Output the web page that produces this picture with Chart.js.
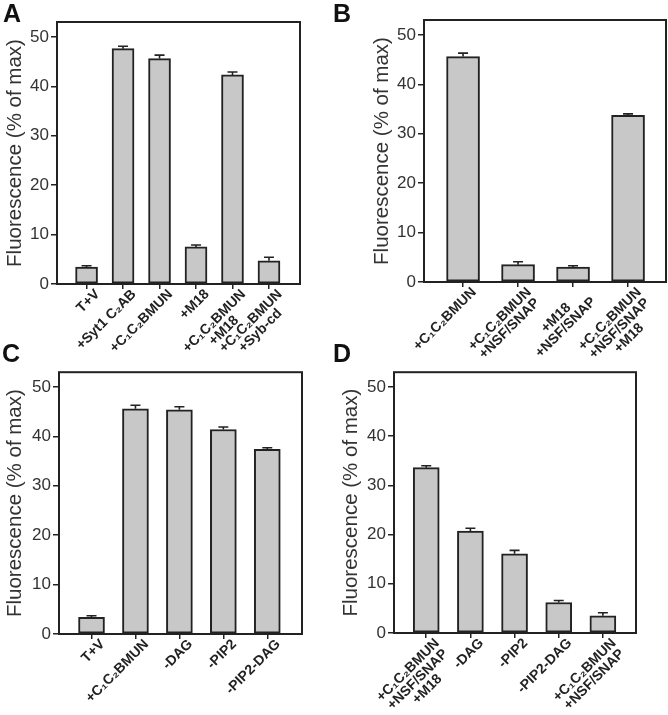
<!DOCTYPE html>
<html>
<head>
<meta charset="utf-8">
<script src="https://cdn.jsdelivr.net/npm/chart.js@4"></script>
<style>
  html, body { margin: 0; padding: 0; background: #fff; }
  #wrap { position: relative; width: 668px; height: 715px; overflow: hidden; }
  canvas { position: absolute; }
  .tag { position: absolute; font: bold 25px "Liberation Sans", Arial, sans-serif; line-height: 25px; color: #111; }
</style>
</head>
<body>
<div id="wrap">
  <canvas id="panelA" width="334" height="360" style="left:0;top:0"></canvas>
  <canvas id="panelB" width="334" height="360" style="left:334px;top:0"></canvas>
  <canvas id="panelC" width="334" height="355" style="left:0;top:360px"></canvas>
  <canvas id="panelD" width="334" height="355" style="left:334px;top:360px"></canvas>
  <div class="tag" style="left:3px;top:1px">A</div>
  <div class="tag" style="left:333px;top:1px">B</div>
  <div class="tag" style="left:2px;top:341px">C</div>
  <div class="tag" style="left:333px;top:341px">D</div>
</div>
<script>
// panel A
const labelsA = [["T+V"], ["+Syt1 C₂AB"], ["+C₁C₂BMUN"], ["+M18"], ["+C₁C₂BMUN", "+M18"], ["+C₁C₂BMUN", "+Syb-cd"]];
const valuesA = [3.4, 47.6, 45.6, 7.5, 42.3, 4.7];
const errorsA = [0.3, 0.5, 0.7, 0.4, 0.6, 0.7];

// panel B
const labelsB = [["+C₁C₂BMUN"], ["+C₁C₂BMUN", "+NSF/SNAP"], ["+M18", "+NSF/SNAP"], ["+C₁C₂BMUN", "+NSF/SNAP", "+M18"]];
const valuesB = [45.6, 3.5, 3.0, 33.7];
const errorsB = [0.7, 0.6, 0.3, 0.3];

// panel C
const labelsC = [["T+V"], ["+C₁C₂BMUN"], ["-DAG"], ["-PIP2"], ["-PIP2-DAG"]];
const valuesC = [3.4, 45.6, 45.4, 41.4, 37.4];
const errorsC = [0.3, 0.7, 0.6, 0.5, 0.3];

// panel D
const labelsD = [["+C₁C₂BMUN", "+NSF/SNAP", "+M18"], ["-DAG"], ["-PIP2"], ["-PIP2-DAG"], ["+C₁C₂BMUN", "+NSF/SNAP"]];
const valuesD = [33.6, 20.7, 16.1, 6.2, 3.5];
const errorsD = [0.4, 0.6, 0.7, 0.4, 0.6];

const yTitle = "Fluorescence (% of max)";
const FONT = '"Liberation Sans", Arial, Helvetica, sans-serif';
const INK = "#222";

// error bars (upper half only) + closed frame around the plot area
const errorBars = {
  id: "errorBars",
  afterDatasetsDraw(chart) {
    const ctx = chart.ctx;
    const yScale = chart.scales.y;
    const errs = chart.options.plugins.errorBars.errors;
    const vals = chart.data.datasets[0].data;
    const meta = chart.getDatasetMeta(0);
    ctx.save();
    ctx.strokeStyle = INK;
    ctx.lineWidth = 1.6;
    meta.data.forEach((bar, i) => {
      const top = yScale.getPixelForValue(vals[i].y + errs[i]);
      ctx.beginPath();
      ctx.moveTo(bar.x, bar.y);
      ctx.lineTo(bar.x, top);
      ctx.moveTo(bar.x - 5, top);
      ctx.lineTo(bar.x + 5, top);
      ctx.stroke();
    });
    const a = chart.chartArea;
    ctx.lineWidth = 2;
    ctx.strokeRect(a.left, a.top, a.right - a.left, a.bottom - a.top);
    ctx.restore();
  }
};

// rotated category labels; lines of one label are centred on each other,
// the block is right-aligned at its tick (Chart.js can only right-align each line)
const tickLabels = {
  id: "tickLabels",
  afterDraw(chart) {
    const labels = chart.options.plugins.tickLabels.labels;
    const xs = chart.scales.x;
    const ctx = chart.ctx;
    const lineH = 13.5;
    ctx.save();
    ctx.font = "bold 14px " + FONT;
    ctx.fillStyle = INK;
    ctx.textAlign = "center";
    ctx.textBaseline = "middle";
    labels.forEach((lines, i) => {
      const w = Math.max(...lines.map(l => ctx.measureText(l).width));
      ctx.save();
      ctx.translate(xs.getPixelForValue(i) + 11, chart.chartArea.bottom + 8);
      ctx.rotate(-Math.PI / 4);
      lines.forEach((l, j) => ctx.fillText(l, -w / 2, j * lineH));
      ctx.restore();
    });
    ctx.restore();
  }
};

function makePanel(id, labels, values, errors, lay) {
  new Chart(document.getElementById(id), {
    type: "bar",
    data: {
      datasets: [{
        data: values.map((v, i) => ({ x: i, y: v })),
        backgroundColor: "#c8c8c8",
        borderColor: INK,
        borderWidth: 2,
        borderSkipped: false,
        barThickness: lay.barW
      }]
    },
    options: {
      responsive: false,
      animation: false,
      devicePixelRatio: 1,
      layout: { padding: { left: lay.padL, top: lay.padT, right: lay.padR, bottom: 0 } },
      plugins: {
        legend: { display: false },
        tooltip: { enabled: false },
        errorBars: { errors: errors },
        tickLabels: { labels: labels }
      },
      scales: {
        x: {
          type: "linear",
          offset: false,
          min: lay.xMin,
          max: lay.xMax,
          afterBuildTicks: (s) => { s.ticks = labels.map((_, i) => ({ value: i })); },
          afterFit: (s) => { s.height = lay.xH; },
          grid: { offset: false, drawOnChartArea: false, drawTicks: true, tickLength: 5, color: INK, lineWidth: 1.5 },
          border: { display: false },
          ticks: { display: false }
        },
        y: {
          min: 0,
          max: 53,
          afterFit: (s) => { s.width = lay.yW; },
          grid: { drawOnChartArea: false, drawTicks: true, tickLength: 6, color: INK, lineWidth: 1.5 },
          border: { display: false },
          ticks: {
            stepSize: 10,
            includeBounds: false,
            padding: 2,
            color: "#333",
            font: { family: FONT, size: 17 }
          },
          title: {
            display: true,
            text: yTitle,
            color: "#333",
            padding: { top: 3, bottom: 3 },
            font: { family: FONT, size: 20.5 }
          }
        }
      }
    },
    plugins: [errorBars, tickLabels]
  });
}

makePanel("panelA", labelsA, valuesA, errorsA, { padL: 0, yW: 57, padT: 22, padR: 34, xH: 76, xMin: -0.81, xMax: 5.85, barW: 22 });
makePanel("panelB", labelsB, valuesB, errorsB, { padL: 33, yW: 57, padT: 20, padR: 2, xH: 78, xMin: -0.71, xMax: 3.69, barW: 33 });
makePanel("panelC", labelsC, valuesC, errorsC, { padL: 0, yW: 59, padT: 12, padR: 32, xH: 81, xMin: -0.74, xMax: 4.79, barW: 26 });
makePanel("panelD", labelsD, valuesD, errorsD, { padL: 2, yW: 58, padT: 12, padR: 32, xH: 82, xMin: -0.73, xMax: 4.75, barW: 26 });
</script>
</body>
</html>
